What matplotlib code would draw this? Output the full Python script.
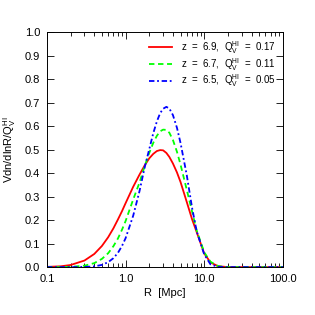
import numpy as np
import matplotlib
matplotlib.use('Agg')
import matplotlib.pyplot as plt
from matplotlib.ticker import FixedLocator, NullFormatter, LogLocator

plt.rcParams['font.family'] = ['Liberation Sans', 'DejaVu Sans']
plt.rcParams['mathtext.fontset'] = 'custom'
plt.rcParams['mathtext.rm'] = 'Liberation Sans'

# radius grid (Mpc) and curve values
R = [0.1, 0.15, 0.2, 0.3, 0.4, 0.5, 0.6, 0.7, 0.8, 0.9, 1.0, 1.25, 1.5, 1.75,
     2.0, 2.25, 2.5, 2.75, 3.0, 3.3, 3.6, 4.0, 4.5, 5.0, 6.0, 7.0, 8.0, 10.0,
     12.0, 15.0, 20.0, 30.0, 50.0, 100.0]
z69 = [0.001, 0.0035, 0.009, 0.028, 0.056, 0.090, 0.127, 0.165, 0.203, 0.238,
       0.272, 0.342, 0.393, 0.433, 0.463, 0.482, 0.494, 0.498, 0.497, 0.486,
       0.469, 0.441, 0.403, 0.362, 0.277, 0.204, 0.15, 0.058, 0.02, 0.004,
       0.0, 0.0, 0.0, 0.0]
z67 = [0.0, 0.0003, 0.001, 0.006, 0.017, 0.035, 0.059, 0.089, 0.122, 0.159,
       0.196, 0.288, 0.359, 0.43, 0.486, 0.529, 0.559, 0.578, 0.585, 0.584,
       0.572, 0.541, 0.491, 0.436, 0.329, 0.237, 0.157, 0.063, 0.023, 0.004,
       0.0, 0.0, 0.0, 0.0]
z65 = [0.0, 0.0, 0.0, 0.0007, 0.003, 0.0095, 0.021, 0.038, 0.061, 0.090,
       0.123, 0.219, 0.322, 0.425, 0.502, 0.57, 0.62, 0.655, 0.674, 0.682,
       0.675, 0.647, 0.593, 0.528, 0.391, 0.253, 0.154, 0.054, 0.012, 0.001,
       0.0, 0.0, 0.0, 0.0]
labels = [r'z  =  6.9,  Q$_{\rm V}^{\rm HI}$  =  0.17',
          r'z  =  6.7,  Q$_{\rm V}^{\rm HI}$  =  0.11',
          r'z  =  6.5,  Q$_{\rm V}^{\rm HI}$  =  0.05']

fig = plt.figure(figsize=(3.15, 3.15), dpi=100)
ax = fig.add_axes([0.149, 0.152, 0.749, 0.746])

ax.plot(R, z69, color='red', lw=1.3, ls='-', label=labels[0])
ax.plot(R, z67, color='#00ff00', lw=1.3, ls=(0, (3, 2)), label=labels[1])
ax.plot(R, z65, color='blue', lw=1.3, ls=(0, (3, 1.5, 1, 1.5)),
        label=labels[2])

ax.set_xscale('log')
ax.set_xlim(0.1, 100)
ax.set_ylim(0, 1.0)
ax.xaxis.set_major_locator(FixedLocator([0.1, 1, 10, 100]))
ax.set_xticklabels(['0.1', '1.0', '10.0', '100.0'])
ax.xaxis.set_minor_locator(LogLocator(base=10, subs=np.arange(2, 10)))
ax.xaxis.set_minor_formatter(NullFormatter())
ax.set_yticks(np.arange(0, 1.01, 0.1))
ax.set_yticklabels(['%.1f' % v for v in np.arange(0, 1.01, 0.1)])
ax.tick_params(which='both', direction='in', top=True, right=True,
               labelsize=8, width=0.6)
ax.tick_params(which='major', length=5, pad=5)
ax.tick_params(which='minor', length=3)
for s in ax.spines.values():
    s.set_linewidth(0.7)

ax.set_xlabel('R  [Mpc]', fontsize=8, labelpad=3)
ax.set_ylabel(r'Vdn/dlnR/Q$_{\rm V}^{\rm HI}$', fontsize=8, labelpad=5)

ax.legend(loc='upper right', frameon=False, fontsize=7, handlelength=2.4,
          handletextpad=0.9, labelspacing=0.0, borderaxespad=0.3)

fig.savefig('out.png', dpi=100)
